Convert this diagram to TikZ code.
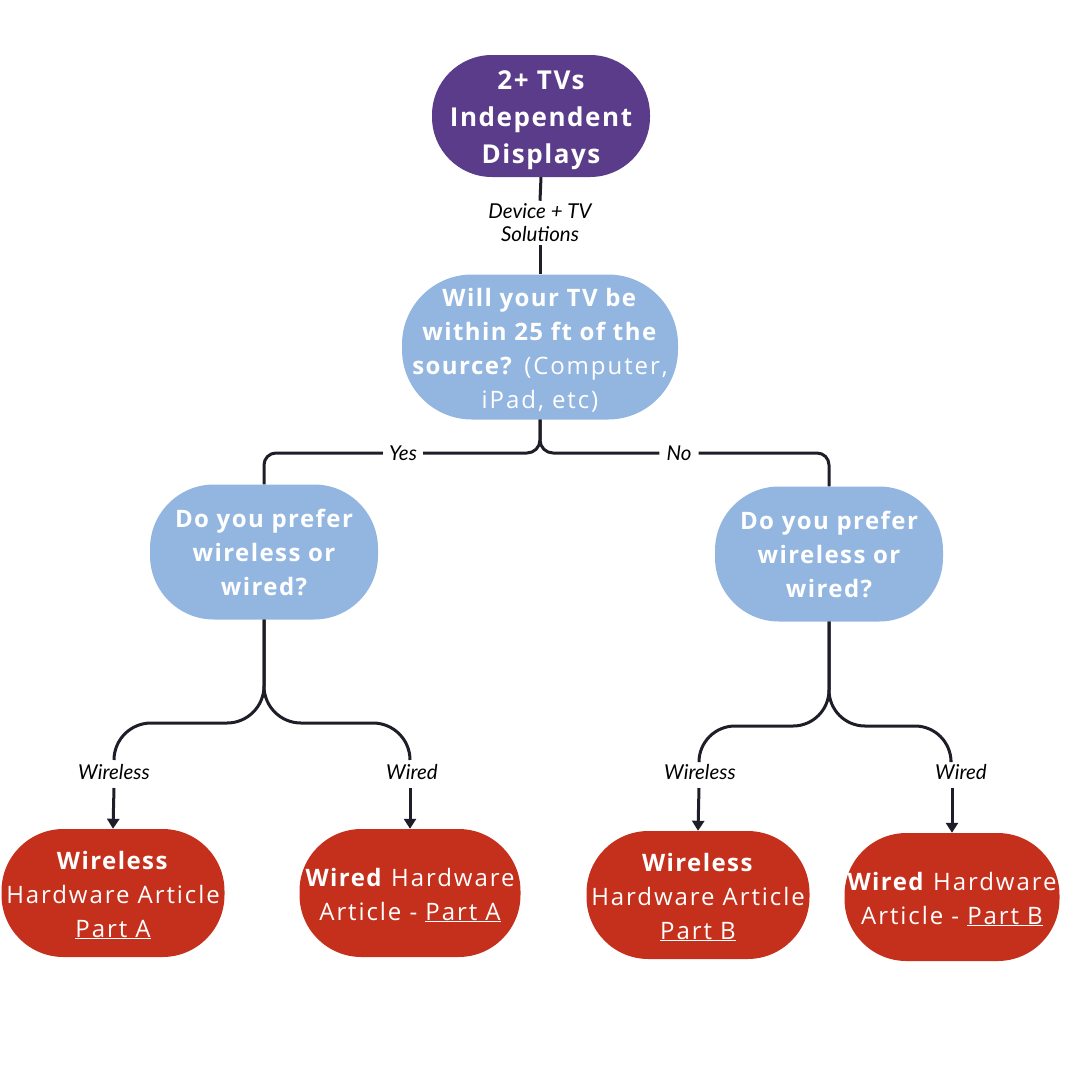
\documentclass[tikz,border=0pt]{standalone}
\usepackage{fontspec}
\setmainfont{Open Sans}[LetterSpace=8, BoldFeatures={LetterSpace=6}]
\newfontfamily\lblfont{Lato}
\usetikzlibrary{arrows.meta}
\definecolor{cpurple}{HTML}{5A3C8A}
\definecolor{cblue}{HTML}{93B6E1}
\definecolor{cred}{HTML}{C4301C}
\definecolor{cline}{HTML}{1E1E28}
\newcommand\mystrut[1]{\rule{0pt}{#1pt}}
\tikzset{
  base/.style={draw=none, align=center, inner sep=0pt, text=white},
  topbox/.style={base, fill=cpurple, minimum width=218pt, minimum height=122pt, rounded corners=60pt, font=\fontsize{26}{37}\selectfont\bfseries},
  qbox/.style={base, fill=cblue, rounded corners=64pt, font=\fontsize{24}{34}\selectfont},
  abox/.style={base, fill=cred, rounded corners=62pt, minimum height=128pt, font=\fontsize{24}{34}\selectfont},
  lbl/.style={font=\lblfont\itshape\fontsize{20.5}{23}\selectfont, text=black, inner sep=3pt, align=center},
  conn/.style={draw=cline, line width=3pt},
  arr/.style={conn, -{Triangle[width=12pt,length=10pt]}},
}
\begin{document}
\begin{tikzpicture}[x=1pt,y=-1pt]
\useasboundingbox (0,0) rectangle (1080,1080);
% nodes
\node[topbox] (top) at (541,116) {\mystrut{26.6}2+ TVs\\Independent\\Displays};
\node[lbl] (l1) at (540,223) {Device + TV\\Solutions};
\node[qbox, minimum width=276pt, minimum height=145pt, rounded corners=70pt] (q1) at (540,347)
  {\mystrut{24.3}\textbf{Will your TV be}\\\textbf{within 25 ft of the}\\\textbf{source?} (Computer,\\iPad, etc)};
\node[qbox, minimum width=228pt, minimum height=135pt, font=\fontsize{24}{34}\selectfont\bfseries] (q2) at (264,552) {Do you prefer\\wireless or\\wired?};
\node[qbox, minimum width=228pt, minimum height=135pt, font=\fontsize{24}{34}\selectfont\bfseries] (q3) at (829,554) {Do you prefer\\wireless or\\wired?};
\node[lbl, inner xsep=6pt] (yes) at (403,453) {Yes};
\node[lbl, inner xsep=7pt] (no) at (679,453) {No};
\node[lbl] (wl1) at (114,772) {Wireless};
\node[lbl] (wd1) at (412,772) {Wired};
\node[lbl] (wl2) at (700,772) {Wireless};
\node[lbl] (wd2) at (961,772) {Wired};
\node[abox, minimum width=223pt] (r1) at (113,893) {\mystrut{22.3}\textbf{Wireless}\\Hardware Article\\\underline{Part A}};
\node[abox, minimum width=221pt] (r2) at (410,893) {\mystrut{22.3}\textbf{Wired} Hardware\\Article - \underline{Part A}};
\node[abox, minimum width=223pt] (r3) at (698,895) {\mystrut{22.3}\textbf{Wireless}\\Hardware Article\\\underline{Part B}};
\node[abox, minimum width=215pt] (r4) at (952,897) {\mystrut{22.3}\textbf{Wired} Hardware\\Article - \underline{Part B}};
% coordinates
\coordinate (c1) at (114,760);
\coordinate (c2) at (410,760);
\coordinate (c3) at (699,760);
\coordinate (c4) at (951,760);
\coordinate (a1) at (114,788);
\coordinate (a2) at (410,788);
\coordinate (a3) at (699,788);
\coordinate (a4) at (952,788);
% connectors
\draw[conn] (top.south) -- (l1.north);
\draw[conn] (l1.south) -- (q1.north);
\draw[conn, rounded corners=13pt] (q1.south) -- (540,453) -- (yes.east);
\draw[conn, rounded corners=12pt] (yes.west) -- (264,453) -- (q2.north);
\draw[conn, rounded corners=13pt] (q1.south) -- (540,453) -- (no.west);
\draw[conn, rounded corners=12pt] (no.east) -- (829,453) -- (q3.north);
\draw[conn, rounded corners=37pt] (q2.south) -- (264,723) -- (114,723) -- (c1);
\draw[conn, rounded corners=37pt] (q2.south) -- (264,723) -- (410,723) -- (c2);
\draw[conn, rounded corners=36pt] (q3.south) -- (829,726) -- (699,726) -- (c3);
\draw[conn, rounded corners=36pt] (q3.south) -- (829,726) -- (951,726) -- (c4);
\draw[arr] (a1) -- (r1.north);
\draw[arr] (a2) -- (r2.north);
\draw[arr] (a3) -- (r3.north);
\draw[arr] (a4) -- (r4.north);
\end{tikzpicture}
\end{document}
